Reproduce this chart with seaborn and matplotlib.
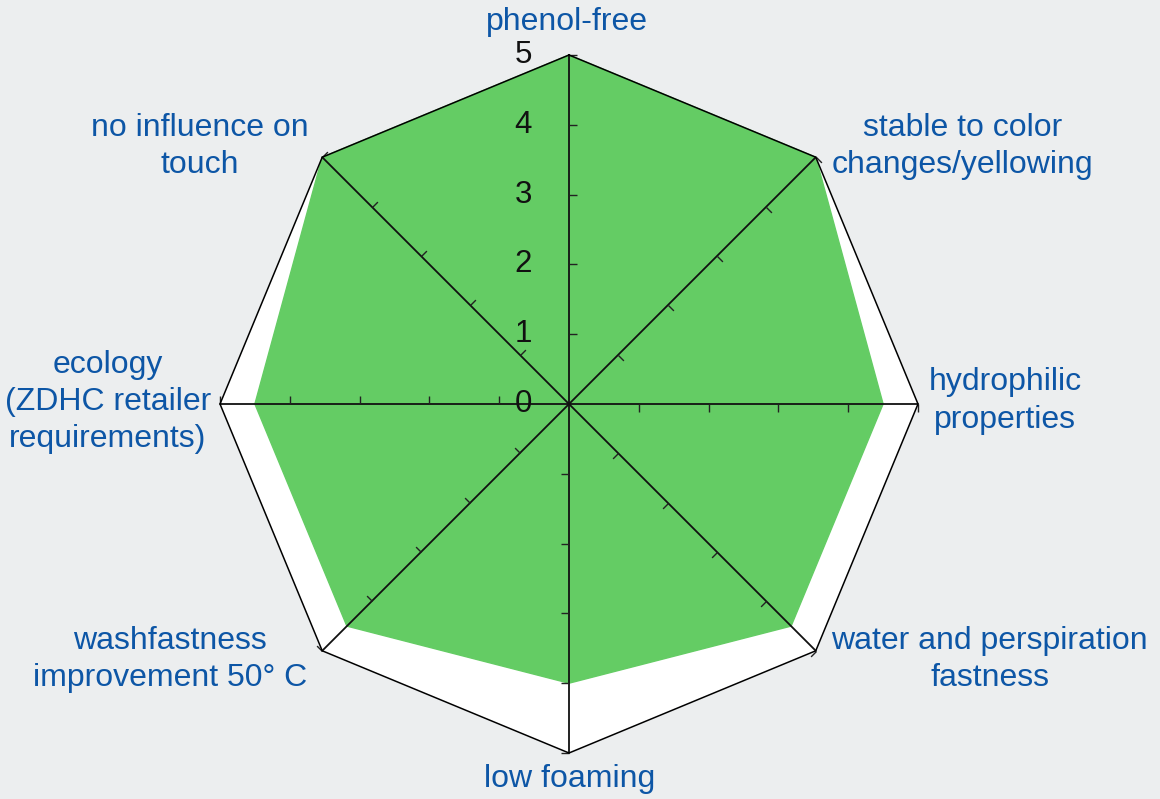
"""Radar chart of product properties (score 0-5)."""
import numpy as np
import matplotlib
matplotlib.use("Agg")
import matplotlib.pyplot as plt
import seaborn as sns
from matplotlib.markers import MarkerStyle
from matplotlib.path import Path
from matplotlib.transforms import Affine2D

# data, clockwise from the top
properties = [
    "phenol-free",
    "stable to color\nchanges/yellowing",
    "hydrophilic\nproperties",
    "water and perspiration\nfastness",
    "low foaming",
    "washfastness\nimprovement 50° C",
    "ecology\n(ZDHC retailer\nrequirements)",
    "no influence on\ntouch",
]
scores = [5, 5, 4.5, 4.5, 4, 4.5, 4.5, 5]
scale_max = 5
scale_ticks = [0, 1, 2, 3, 4, 5]

# label offsets from the outer corner, in pixels
label_offsets = [(-2, 33), (147, 11), (87, 3), (174, -9),
                 (1, -26), (-152, -9), (-112, 2), (-122, 11)]

GREEN = "#64cc64"
BLUE = "#0d56a6"
BG = "#eceeef"

sns.set_theme(style="white")
plt.rcParams["font.family"] = ["Liberation Sans", "DejaVu Sans"]

fig = plt.figure(figsize=(11.6, 7.99), dpi=100, facecolor=BG)
ax = fig.add_axes([220 / 1160, 46 / 799, 698 / 1160, 698 / 799], projection="polar")
ax.set_theta_zero_location("N")
ax.set_theta_direction(-1)
ax.set_ylim(0, scale_max)
ax.patch.set_visible(False)
ax.spines["polar"].set_visible(False)
ax.grid(False)
ax.set_xticks([])
ax.set_yticks([])

n = len(properties)
angles = np.linspace(0, 2 * np.pi, n, endpoint=False)
closed = np.append(angles, angles[0])
frame = [scale_max] * (n + 1)

# white interior, green score area
ax.fill(closed, frame, color="white", zorder=1, clip_on=False)
ax.fill(closed, scores + [scores[0]], color=GREEN, zorder=2, clip_on=False)

# outer octagon
sns.lineplot(x=closed, y=frame, sort=False, estimator=None, color="black",
             linewidth=1.1, ax=ax, zorder=4, clip_on=False)

# spokes with small one-sided ticks
tick_path = Path([[0, 0], [1, 0]])
for th in angles:
    ax.plot([th, th], [0, scale_max], color="#111111", linewidth=1.3,
            zorder=3, clip_on=False)
    mk = MarkerStyle(tick_path, transform=Affine2D().rotate_deg(-np.degrees(th)))
    ax.plot([th] * (len(scale_ticks) - 1), scale_ticks[1:], linestyle="none",
            marker=mk, markersize=11, markeredgewidth=1.0,
            markeredgecolor="#222222", zorder=3, clip_on=False)

# scale numbers on the vertical spoke
for v in scale_ticks:
    ax.annotate(str(v), xy=(0, v), xytext=(-46, 0), textcoords="offset pixels",
                ha="center", va="center", fontsize=22.5, color="#111111",
                zorder=5, annotation_clip=False)

# property labels
for th, lab, (dx, dy) in zip(angles, properties, label_offsets):
    ax.annotate(lab, xy=(th, scale_max), xytext=(dx, dy),
                textcoords="offset pixels", ha="center", va="center",
                multialignment="center", fontsize=23, color=BLUE,
                linespacing=1.32, zorder=5, annotation_clip=False)

fig.savefig("out.png", dpi=100, facecolor=BG)
